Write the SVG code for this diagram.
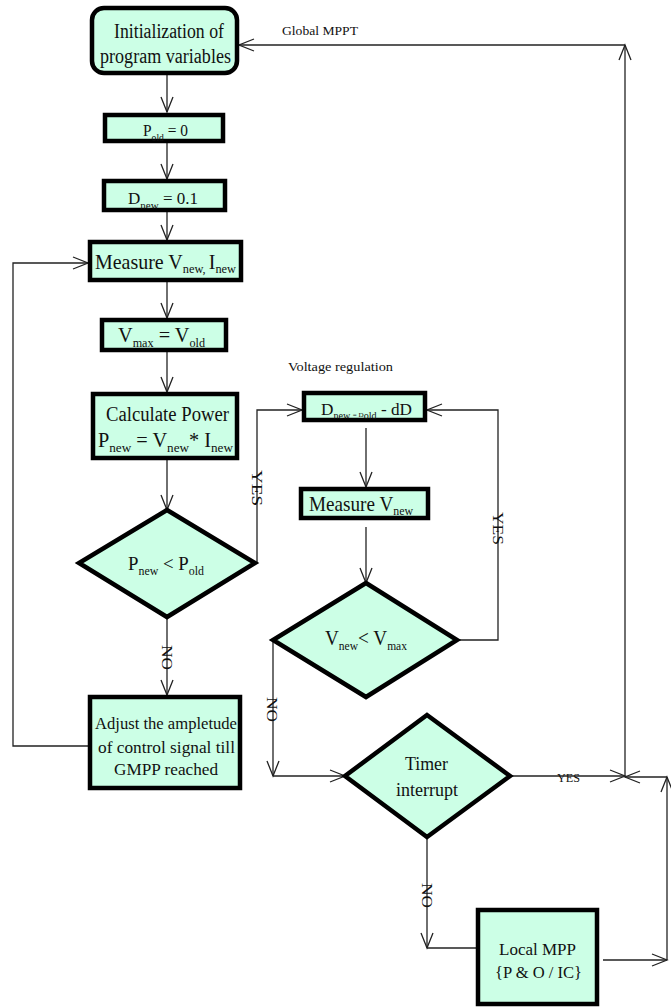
<svg xmlns="http://www.w3.org/2000/svg" width="671" height="1007" viewBox="0 0 671 1007">
<style>
text{font-family:"Liberation Serif","Times New Roman",serif;fill:#111}
.box{fill:#CCFFE6;stroke:#000;stroke-width:4.5}
.ln{fill:none;stroke:#222;stroke-width:1.3}
.lbl{font-size:12px}
.rl{font-size:14px}
</style>
<defs>
<marker id="ah" markerUnits="userSpaceOnUse" markerWidth="20" markerHeight="14" refX="16" refY="6.5" orient="auto" overflow="visible">
<path d="M1,0.5 L16,6.5 L1,12.5" fill="none" stroke="#222" stroke-width="1.3"/>
</marker>
</defs>
<g id="connectors">
<path class="ln" d="M167,75 V112" marker-end="url(#ah)"/>
<path class="ln" d="M167,143 V179" marker-end="url(#ah)"/>
<path class="ln" d="M167,212 V240" marker-end="url(#ah)"/>
<path class="ln" d="M167,282 V318" marker-end="url(#ah)"/>
<path class="ln" d="M167,352 V392" marker-end="url(#ah)"/>
<path class="ln" d="M167,460 V510" marker-end="url(#ah)"/>
<path class="ln" d="M167,617 V695" marker-end="url(#ah)"/>
<path class="ln" d="M88,746 H13 V263 H88" marker-end="url(#ah)"/>
<path class="ln" d="M255,563 H257 V410 H302" marker-end="url(#ah)"/>
<path class="ln" d="M366,428 V487" marker-end="url(#ah)"/>
<path class="ln" d="M366,527 V583" marker-end="url(#ah)"/>
<path class="ln" d="M457,640 H498 V410 H427" marker-end="url(#ah)"/>
<path class="ln" d="M273,640 V776" marker-end="url(#ah)"/>
<path class="ln" d="M273,776 H345" marker-end="url(#ah)"/>
<path class="ln" d="M510,776 H625" marker-end="url(#ah)"/>
<path class="ln" d="M427,837 V948" marker-end="url(#ah)"/>
<path class="ln" d="M427,948 H476"/>
<path class="ln" d="M603,960 H667" marker-end="url(#ah)"/>
<path class="ln" d="M667,960 V777" marker-end="url(#ah)"/>
<path class="ln" d="M667,777 H625" marker-end="url(#ah)"/>
<path class="ln" d="M625,777 V45" marker-end="url(#ah)"/>
<path class="ln" d="M625,45 H239" marker-end="url(#ah)"/>
<text class="lbl" x="282" y="35" textLength="76" lengthAdjust="spacingAndGlyphs">Global MPPT</text>
<text class="lbl" x="557" y="782" textLength="23" lengthAdjust="spacingAndGlyphs">YES</text>
<text class="rl" transform="translate(252,470) rotate(90)" textLength="36" lengthAdjust="spacingAndGlyphs">YES</text>
<text class="rl" transform="translate(493,512) rotate(90)" textLength="33" lengthAdjust="spacingAndGlyphs">YES</text>
<text class="rl" transform="translate(162,645) rotate(90)" textLength="25" lengthAdjust="spacingAndGlyphs">NO</text>
<text class="rl" transform="translate(267,697) rotate(90)" textLength="25" lengthAdjust="spacingAndGlyphs">NO</text>
<text class="rl" transform="translate(422,883) rotate(90)" textLength="25" lengthAdjust="spacingAndGlyphs">NO</text>
<text x="288" y="371" font-size="13" textLength="105" lengthAdjust="spacingAndGlyphs">Voltage regulation</text>
</g>
<g id="init">
<rect class="box" x="92" y="8" width="145" height="65" rx="12"/>
<text x="169" y="38" font-size="20" text-anchor="middle" textLength="110" lengthAdjust="spacingAndGlyphs">Initialization of</text>
<text x="165.5" y="63" font-size="20" text-anchor="middle" textLength="131" lengthAdjust="spacingAndGlyphs">program variables</text>
</g>
<g id="pold">
<rect class="box" x="105" y="115" width="118" height="26"/>
<text x="143" y="136" font-size="16" textLength="45" lengthAdjust="spacingAndGlyphs">P<tspan font-size="10" dy="5">old</tspan><tspan dy="-5"> = 0</tspan></text>
</g>
<g id="dnew">
<rect class="box" x="104" y="181" width="121" height="29"/>
<text x="128" y="204" font-size="17" textLength="70" lengthAdjust="spacingAndGlyphs">D<tspan font-size="11" dy="5">new</tspan><tspan dy="-5"> = 0.1</tspan></text>
</g>
<g id="measure">
<rect class="box" x="90" y="242" width="151" height="38"/>
<text x="95" y="269" font-size="21" textLength="141" lengthAdjust="spacingAndGlyphs">Measure V<tspan font-size="13" dy="4">new, </tspan><tspan dy="-4">I</tspan><tspan font-size="13" dy="4">new</tspan></text>
</g>
<g id="vmax">
<rect class="box" x="102" y="320" width="124" height="30"/>
<text x="118" y="342" font-size="20" textLength="87" lengthAdjust="spacingAndGlyphs">V<tspan font-size="12" dy="5">max</tspan><tspan dy="-5"> = V</tspan><tspan font-size="12" dy="5">old</tspan></text>
</g>
<g id="calc">
<rect class="box" x="93" y="394" width="144" height="64"/>
<text x="167.5" y="421" font-size="20" text-anchor="middle" textLength="123" lengthAdjust="spacingAndGlyphs">Calculate Power</text>
<text x="98" y="447" font-size="20" textLength="135" lengthAdjust="spacingAndGlyphs">P<tspan font-size="13" dy="5">new</tspan><tspan dy="-5"> = V</tspan><tspan font-size="13" dy="5">new</tspan><tspan dy="-5">* I</tspan><tspan font-size="13" dy="5">new</tspan></text>
</g>
<g id="pcompare">
<polygon class="box" points="167,510 255,563 167,617 79,563"/>
<text x="128" y="570" font-size="19" textLength="76" lengthAdjust="spacingAndGlyphs">P<tspan font-size="12" dy="5">new</tspan><tspan dy="-5"> &lt; P</tspan><tspan font-size="12" dy="5">old</tspan></text>
</g>
<g id="adjust">
<rect class="box" x="90" y="697" width="150" height="91"/>
<text x="166" y="729" font-size="17" text-anchor="middle" textLength="142" lengthAdjust="spacingAndGlyphs">Adjust the ampletude</text>
<text x="166.5" y="753" font-size="17" text-anchor="middle" textLength="137" lengthAdjust="spacingAndGlyphs">of control signal till</text>
<text x="166" y="775" font-size="17" text-anchor="middle" textLength="104" lengthAdjust="spacingAndGlyphs">GMPP reached</text>
</g>
<g id="dreg">
<rect class="box" x="304" y="393" width="121" height="27"/>
<text x="321" y="415" font-size="17" textLength="91" lengthAdjust="spacingAndGlyphs">D<tspan font-size="10" dy="4">new </tspan><tspan font-size="7" dy="-2">= D</tspan><tspan font-size="10" dy="2">old</tspan><tspan dy="-4"> - dD</tspan></text>
</g>
<g id="measurev">
<rect class="box" x="301" y="489" width="127" height="29"/>
<text x="309" y="511" font-size="21" textLength="104" lengthAdjust="spacingAndGlyphs">Measure V<tspan font-size="13" dy="4">new</tspan></text>
</g>
<g id="vcompare">
<polygon class="box" points="366,583 457,640 366,697 273,640"/>
<text x="325" y="645" font-size="20" textLength="82" lengthAdjust="spacingAndGlyphs">V<tspan font-size="12" dy="5">new</tspan><tspan dy="-5">&lt; V</tspan><tspan font-size="12" dy="5">max</tspan></text>
</g>
<g id="timer">
<polygon class="box" points="427,715 510,776 427,837 345,776"/>
<text x="426.5" y="770" font-size="19" text-anchor="middle" textLength="43" lengthAdjust="spacingAndGlyphs">Timer</text>
<text x="427" y="796" font-size="19" text-anchor="middle" textLength="62" lengthAdjust="spacingAndGlyphs">interrupt</text>
</g>
<g id="localmpp">
<rect class="box" x="478" y="910" width="119" height="94"/>
<text x="537.5" y="955" font-size="16" text-anchor="middle" textLength="77" lengthAdjust="spacingAndGlyphs">Local MPP</text>
<text x="538.5" y="978" font-size="16" text-anchor="middle" textLength="87" lengthAdjust="spacingAndGlyphs">{P &amp; O / IC}</text>
</g>
</svg>
